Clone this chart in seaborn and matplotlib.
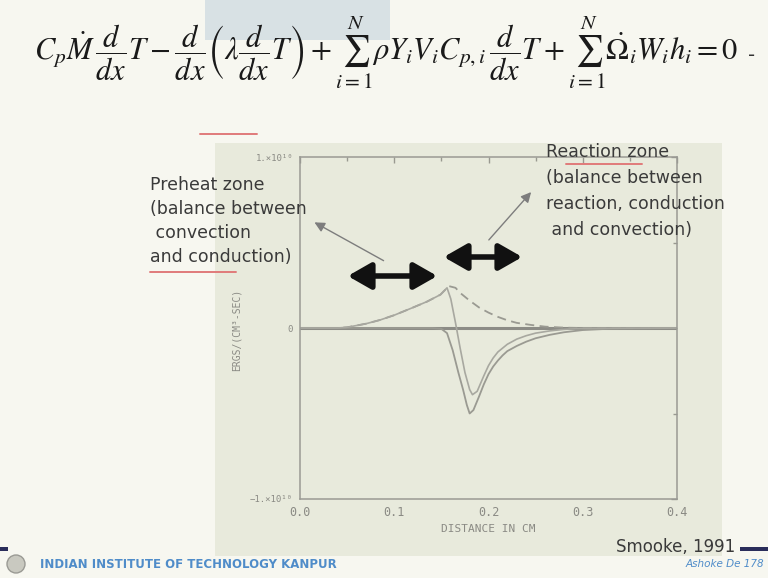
import numpy as np
import pandas as pd
import seaborn as sns
import matplotlib
matplotlib.use("Agg")
import matplotlib.pyplot as plt
from matplotlib.patches import Rectangle, Circle, FancyArrowPatch
from matplotlib.ticker import MultipleLocator, FixedLocator

# ---- energy-equation terms across the flame (scaled by 1e10 erg/cm^3/s) ----
x_convection = [0.00, 0.04, 0.05, 0.07, 0.085, 0.10, 0.12, 0.135, 0.149, 0.158,
                0.165, 0.17, 0.18, 0.19, 0.20, 0.21, 0.22, 0.23, 0.245, 0.26,
                0.28, 0.30, 0.40]
y_convection = [0.0, 0.0, 0.004, 0.025, 0.047, 0.075, 0.12, 0.155, 0.195, 0.245,
                0.235, 0.205, 0.16, 0.12, 0.09, 0.065, 0.045, 0.03, 0.018, 0.008,
                0.002, 0.0, 0.0]

x_reaction = [0.00, 0.14, 0.15, 0.156, 0.162, 0.168, 0.173, 0.177, 0.18, 0.184,
              0.19, 0.195, 0.20, 0.205, 0.21, 0.215, 0.22, 0.23, 0.24, 0.25,
              0.265, 0.28, 0.30, 0.33, 0.40]
y_reaction = [0.0, 0.0, -0.005, -0.03, -0.13, -0.26, -0.36, -0.45, -0.50, -0.48,
              -0.40, -0.33, -0.27, -0.225, -0.19, -0.16, -0.135, -0.105, -0.08, -0.06,
              -0.04, -0.025, -0.012, -0.004, 0.0]

x_conduction = [0.00, 0.04, 0.05, 0.07, 0.085, 0.10, 0.12, 0.135, 0.149, 0.156,
                0.16, 0.165, 0.17, 0.175, 0.18, 0.183, 0.188, 0.195, 0.20, 0.205,
                0.21, 0.22, 0.23, 0.24, 0.25, 0.265, 0.28, 0.30, 0.40]
y_conduction = [0.0, 0.0, 0.004, 0.025, 0.047, 0.075, 0.12, 0.155, 0.195, 0.235,
                0.17, 0.03, -0.12, -0.26, -0.36, -0.39, -0.37, -0.28, -0.22, -0.175,
                -0.14, -0.095, -0.065, -0.045, -0.03, -0.017, -0.008, -0.002, 0.0]

x_total = [0.00, 0.40]
y_total = [0.0, 0.0]

x_ticks = [0.0, 0.1, 0.2, 0.3, 0.4]
x_tick_labels = ["0.0", "0.1", "0.2", "0.3", "0.4"]
y_ticks = [-1.0, 0.0, 1.0]
y_tick_labels = ["\u22121.\u00d710\u00b9\u2070", "0", "1.\u00d710\u00b9\u2070"]

W, H = 768, 578
sns.set_theme(style="white")
plt.rcParams["font.family"] = ["DejaVu Sans"]
plt.rcParams["mathtext.fontset"] = "stix"

fig = plt.figure(figsize=(W / 100, H / 100), dpi=100)
fig.patch.set_facecolor("#f7f7f0")


def fx(x):
    return x / W


def fy(y):
    return 1 - y / H


def fp(x, y):
    return (x, H - y)


# faint banner at the top and the scanned plot panel
fig.add_artist(Rectangle((fx(205), fy(40)), 185 / W, 40 / H, transform=fig.transFigure,
                         facecolor="#d8e1e4", edgecolor="none", zorder=0))
fig.add_artist(Rectangle((fx(215), fy(556)), 507 / W, 413 / H, transform=fig.transFigure,
                         facecolor="#e8eadc", edgecolor="none", zorder=0))

# energy equation
eq = (r"$C_p\dot{M}\,\dfrac{d}{dx}T-\dfrac{d}{dx}\left(\lambda\dfrac{d}{dx}T\right)"
      r"+\sum_{i=1}^{N}\rho Y_iV_iC_{p,i}\,\dfrac{d}{dx}T"
      r"+\sum_{i=1}^{N}\dot{\Omega}_iW_ih_i=0$")
fig.text(fx(386), fy(52), eq, fontsize=22, ha="center", va="center", color="#1a1a1a")
fig.text(fx(752), fy(55), "-", fontsize=14, ha="center", va="center", color="#333333")

# plot area
ax = fig.add_axes([fx(300), fy(499), 377 / W, 342 / H])
ax.patch.set_alpha(0)

line_col = "#9a9a92"
sns.lineplot(x=x_total, y=y_total, ax=ax, color="#8c8c86", lw=2.2)
sns.lineplot(x=x_convection, y=y_convection, ax=ax, color=line_col, lw=1.3,
             linestyle=(0, (5, 3)))
sns.lineplot(x=x_reaction, y=y_reaction, ax=ax, color=line_col, lw=1.3)
sns.lineplot(x=x_conduction, y=y_conduction, ax=ax, color="#a8a8a0", lw=1.2)

ax.set_xlim(0, 0.4)
ax.set_ylim(-1, 1)
ax.xaxis.set_major_locator(FixedLocator(x_ticks))
ax.set_xticklabels(x_tick_labels)
ax.xaxis.set_minor_locator(MultipleLocator(0.05))
ax.yaxis.set_major_locator(FixedLocator(y_ticks))
ax.set_yticklabels(y_tick_labels)
ax.yaxis.set_minor_locator(FixedLocator([-0.5, 0.5]))
ax.tick_params(which="both", direction="in", top=True, right=True,
               color="#999990", width=1)
ax.tick_params(which="major", length=4)
ax.tick_params(which="minor", length=3)
ax.tick_params(axis="x", labelsize=8.5, labelcolor="#8a8a84", pad=5)
ax.tick_params(axis="y", labelsize=6.5, labelcolor="#8a8a84", pad=5)
for lab in ax.get_xticklabels() + ax.get_yticklabels():
    lab.set_family("DejaVu Sans Mono")
for sp in ax.spines.values():
    sp.set_color("#9a9a94")
    sp.set_linewidth(1.1)
ax.set_xlabel("DISTANCE IN CM", family="DejaVu Sans Mono", fontsize=8,
              color="#8a8a84", labelpad=4)
ax.set_ylabel("")
fig.text(fx(237), fy(330), "ERGS/(CM\u00b3-SEC)", rotation=90, ha="center", va="center",
         family="DejaVu Sans Mono", fontsize=7, color="#8a8a84")

# zone annotations
txt_col = "#3a3a3a"
for i, s in enumerate(["Preheat zone", "(balance between", " convection", "and conduction)"]):
    fig.text(fx(150), fy(185 + 24 * i), s, fontsize=12.5, color=txt_col, va="center")
for i, s in enumerate(["Reaction zone", "(balance between", "reaction, conduction",
                       " and convection)"]):
    fig.text(fx(546), fy(152 + 26 * i), s, fontsize=12.5, color=txt_col, va="center")

# red emphasis strokes
for (x0, x1, y) in [(200, 257, 134), (150, 236, 272), (566, 642, 164)]:
    fig.add_artist(plt.Line2D([fx(x0), fx(x1)], [fy(y), fy(y)], transform=fig.transFigure,
                              color="#e07a7a", lw=1.4))

# pointer arrows
for (tail, head) in [((386, 262), (312, 221)), ((487, 242), (533, 190))]:
    fig.add_artist(FancyArrowPatch(fp(*tail), fp(*head), transform=None,
                                   arrowstyle="-|>,head_length=6,head_width=3",
                                   color="#7d7d7d", lw=1.0))
# zone extent arrows
for (x0, x1, y) in [(345, 440, 276), (441, 525, 257)]:
    fig.add_artist(FancyArrowPatch(fp(x0, y), fp(x1, y), transform=None,
                                   arrowstyle="<|-|>,head_length=14,head_width=8",
                                   color="#111111", lw=4, mutation_scale=1))

fig.text(fx(735), fy(547), "Smooke, 1991", fontsize=12, color="#3a3a3a",
         ha="right", va="center")

# footer
fig.add_artist(Rectangle((0, fy(551)), 8 / W, 4 / H, transform=fig.transFigure,
                         facecolor="#2a2d5a", edgecolor="none"))
fig.add_artist(Rectangle((fx(740), fy(551)), 28 / W, 4 / H, transform=fig.transFigure,
                         facecolor="#2a2d5a", edgecolor="none"))
fig.add_artist(Circle(fp(16, 564), 9, transform=None, facecolor="#c9c9c0",
                      edgecolor="#9a9a94", lw=1))
fig.text(fx(40), fy(564), "INDIAN INSTITUTE OF TECHNOLOGY KANPUR", fontsize=8.5,
         weight="bold", color="#4f8cc9", va="center")
fig.text(fx(764), fy(564), "Ashoke De 178", fontsize=7.5, style="italic",
         color="#4f8cc9", va="center", ha="right")

fig.savefig("out.png", dpi=100, facecolor=fig.get_facecolor())
